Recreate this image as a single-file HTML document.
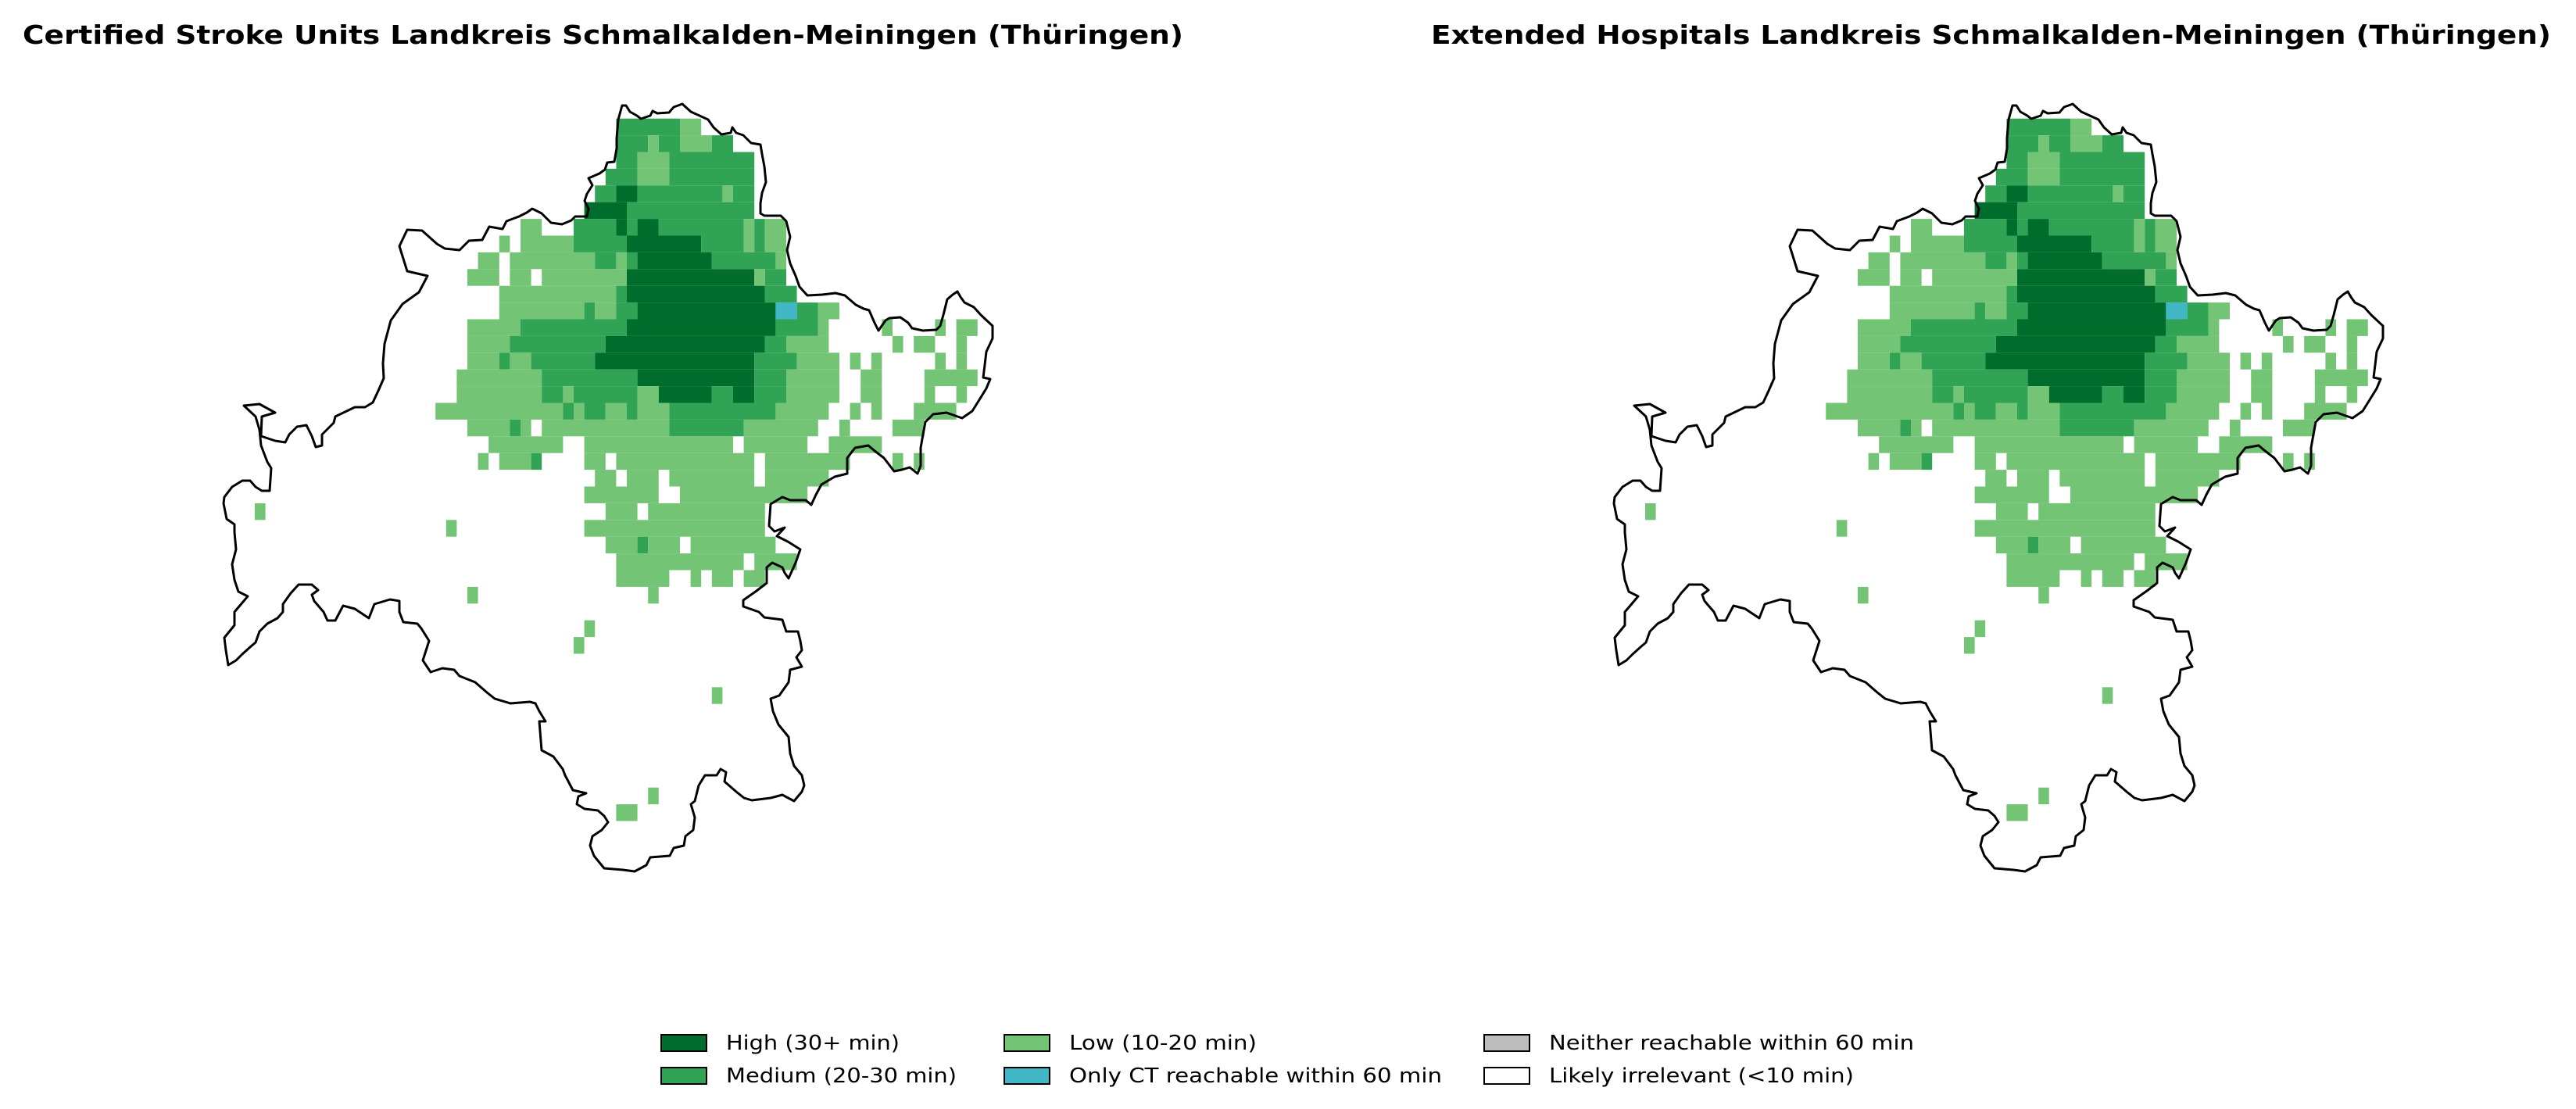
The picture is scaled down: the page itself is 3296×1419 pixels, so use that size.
<!DOCTYPE html>
<html><head><meta charset="utf-8"><title>Stroke Units Schmalkalden-Meiningen</title>
<style>
html,body{margin:0;padding:0;background:#fff;}
svg{display:block;}
</style></head>
<body>
<svg id="fig" xmlns="http://www.w3.org/2000/svg" width="3296" height="1419" viewBox="0 0 3296 1419">
  <rect x="0" y="0" width="3296" height="1419" fill="#fff"/>
  <text x="29" y="56" font-family="DejaVu Sans, Liberation Sans, sans-serif" font-weight="bold" font-size="33" textLength="1485" lengthAdjust="spacingAndGlyphs">Certified Stroke Units Landkreis Schmalkalden-Meiningen (Thüringen)</text>
  <text x="1831" y="56" font-family="DejaVu Sans, Liberation Sans, sans-serif" font-weight="bold" font-size="33" textLength="1433" lengthAdjust="spacingAndGlyphs">Extended Hospitals Landkreis Schmalkalden-Meiningen (Thüringen)</text>
  <g id="mapL"></g>
  <g id="mapR" transform="translate(1779,0)"></g>
  <g id="legend"></g>
</svg>
<script>
// Category codes: 1 = Low, 2 = Medium, 3 = High, 4 = Only CT
const categoryColors = ["#ffffff", "#74c476", "#31a354", "#006d2c", "#41b6c4"];
// Runs of grid cells: [row, firstCol, lastCol, category]
const cellRuns = [
 [0,34,39,2],[0,40,41,1],
 [1,34,36,2],[1,37,37,1],[1,38,39,2],[1,40,42,1],[1,43,44,2],
 [2,34,35,2],[2,36,38,1],[2,39,46,2],
 [3,33,35,2],[3,36,38,1],[3,39,46,2],
 [4,32,33,2],[4,34,35,3],[4,36,43,2],[4,44,44,1],[4,45,46,2],
 [5,31,34,3],[5,35,46,2],
 [6,25,26,1],[6,30,33,2],[6,34,34,3],[6,35,35,2],[6,36,37,3],[6,38,45,2],[6,46,46,1],[6,47,47,2],[6,48,49,1],
 [7,23,23,1],[7,25,29,1],[7,30,34,2],[7,35,41,3],[7,42,45,2],[7,46,46,1],[7,47,47,2],[7,48,49,1],
 [8,21,22,1],[8,24,31,1],[8,32,33,2],[8,34,34,1],[8,35,35,2],[8,36,42,3],[8,43,48,2],[8,49,49,1],
 [9,20,22,1],[9,24,25,1],[9,27,34,1],[9,35,46,3],[9,47,47,1],[9,48,49,2],
 [10,23,33,1],[10,34,34,2],[10,35,47,3],[10,48,50,2],
 [11,23,30,1],[11,31,31,2],[11,32,33,1],[11,34,35,2],[11,36,48,3],[11,49,50,4],[11,51,52,2],[11,53,54,1],
 [12,20,24,1],[12,25,34,2],[12,35,48,3],[12,49,52,2],[12,53,53,1],[12,59,59,1],[12,64,64,1],[12,66,67,1],
 [13,20,23,1],[13,24,32,2],[13,33,47,3],[13,48,49,2],[13,50,53,1],[13,60,60,1],[13,62,63,1],[13,66,66,1],
 [14,20,22,1],[14,23,23,2],[14,24,25,1],[14,26,31,2],[14,32,46,3],[14,47,50,2],[14,51,54,1],[14,56,56,1],[14,58,58,1],[14,64,64,1],[14,66,66,1],
 [15,19,26,1],[15,27,35,2],[15,36,46,3],[15,47,49,2],[15,50,54,1],[15,57,58,1],[15,63,67,1],
 [16,19,26,1],[16,27,28,2],[16,29,29,1],[16,30,35,2],[16,36,37,1],[16,38,42,3],[16,43,44,2],[16,45,46,3],[16,47,49,2],[16,50,54,1],[16,57,58,1],[16,63,63,1],[16,66,66,1],
 [17,17,28,1],[17,29,29,2],[17,30,30,1],[17,31,32,2],[17,33,34,1],[17,35,35,2],[17,36,38,1],[17,39,48,2],[17,49,53,1],[17,56,56,1],[17,58,58,1],[17,62,65,1],
 [18,20,23,1],[18,24,24,2],[18,25,25,1],[18,27,38,1],[18,39,45,2],[18,46,52,1],[18,55,55,1],[18,60,62,1],
 [19,22,28,1],[19,31,44,1],[19,46,51,1],[19,54,58,1],
 [20,21,21,1],[20,23,25,1],[20,26,26,2],[20,31,32,1],[20,34,46,1],[20,48,55,1],[20,60,60,1],[20,62,62,1],
 [21,32,33,1],[21,35,37,1],[21,39,46,1],[21,48,53,1],
 [22,31,37,1],[22,40,51,1],
 [23,0,0,1],[23,33,35,1],[23,37,47,1],
 [24,18,18,1],[24,31,47,1],
 [25,33,35,1],[25,36,36,2],[25,37,39,1],[25,41,48,1],
 [26,34,45,1],[26,47,50,1],
 [27,34,38,1],[27,41,41,1],[27,43,44,1],[27,46,47,1],
 [28,20,20,1],[28,37,37,1],
 [30,31,31,1],[31,30,30,1],[34,43,43,1],[40,37,37,1],[41,34,35,1]
];
const legendLabels = ["High (30+ min)","Medium (20-30 min)","Low (10-20 min)","Only CT reachable within 60 min","Neither reachable within 60 min","Likely irrelevant (<10 min)"];
const legendColors = ["#006d2c","#31a354","#74c476","#41b6c4","#bdbdbd","#ffffff"];

// Axis functions (grid column/row -> pixel)
const GX0 = 326, GW = 13.6, GY0 = 151.7, GH = 21.4;
function xScale(c){ return GX0 + GW * c; }
function yScale(r){ return GY0 + GH * r; }

const outline = [
[797,135],[801,135],[806,143],[815,148],[820,152],[832,148],[835,142],[841,145],[856,144],[862,137],[873,133],[884,143],[906,153],[913,163],[923,172],[935,170],[937,163],[942,170],[951,173],[961,183],[973,185],[975,197],[978,213],[980,233],[975,247],[973,260],[973,273],[978,276],[999,276],[1006,283],[1011,303],[1007,320],[1011,337],[1018,353],[1023,367],[1033,378],[1052,377],[1069,375],[1081,378],[1095,390],[1105,395],[1112,397],[1119,413],[1124,423],[1133,410],[1138,407],[1152,406],[1162,413],[1167,420],[1181,423],[1198,422],[1203,417],[1207,403],[1212,383],[1219,377],[1225,373],[1229,380],[1234,387],[1246,393],[1255,403],[1270,417],[1270,433],[1262,450],[1260,467],[1258,483],[1267,485],[1262,497],[1254,510],[1244,526],[1231,535],[1211,528],[1194,530],[1184,540],[1181,556],[1178,573],[1178,596],[1174,606],[1164,598],[1154,601],[1144,603],[1131,586],[1118,576],[1111,570],[1094,573],[1084,586],[1084,606],[1068,610],[1051,620],[1044,633],[1038,646],[1031,640],[1011,640],[1001,636],[986,645],[984,673],[991,680],[1004,675],[994,686],[1008,693],[1024,703],[1018,720],[1009,740],[1004,733],[1001,726],[988,720],[981,726],[981,746],[968,756],[951,768],[951,776],[971,783],[978,790],[1001,793],[1006,808],[1021,808],[1024,820],[1026,832],[1019,841],[1026,853],[1011,857],[1009,873],[997,890],[986,894],[989,910],[996,927],[1009,943],[1011,964],[1016,980],[1026,992],[1029,1005],[1026,1013],[1016,1025],[1001,1017],[986,1021],[962,1024],[952,1021],[942,1013],[927,1000],[929,988],[922,984],[917,992],[902,992],[894,1005],[889,1025],[884,1029],[889,1046],[887,1062],[877,1070],[875,1082],[862,1085],[857,1095],[832,1097],[827,1107],[812,1115],[797,1113],[773,1111],[760,1095],[755,1082],[758,1070],[770,1062],[778,1052],[773,1044],[765,1037],[748,1035],[738,1029],[740,1019],[750,1015],[733,1011],[723,992],[720,984],[708,968],[693,960],[690,923],[698,923],[690,910],[685,900],[678,898],[653,900],[633,894],[623,886],[608,873],[588,865],[581,857],[566,855],[551,860],[541,845],[549,820],[539,804],[534,798],[516,796],[511,783],[511,769],[499,767],[479,773],[472,791],[454,779],[439,775],[429,794],[419,794],[414,783],[402,769],[399,761],[407,755],[399,748],[382,748],[372,759],[362,773],[362,783],[355,791],[342,798],[332,808],[327,822],[320,828],[310,837],[302,845],[292,851],[289,832],[287,816],[300,800],[300,783],[317,763],[305,757],[300,742],[297,722],[302,703],[300,681],[300,671],[290,664],[286,644],[287,636],[297,623],[310,615],[320,615],[327,623],[335,628],[345,628],[347,599],[342,591],[334,570],[332,550],[327,533],[312,519],[332,517],[352,528],[335,533],[334,558],[352,564],[365,566],[370,556],[380,546],[392,544],[399,558],[404,572],[412,570],[412,556],[427,541],[429,533],[454,521],[467,521],[477,515],[484,500],[491,484],[490,465],[492,440],[500,410],[515,389],[536,374],[547,353],[521,347],[511,315],[521,294],[540,295],[559,312],[569,318],[588,320],[600,308],[617,307],[626,290],[643,293],[648,283],[664,277],[674,272],[681,267],[693,273],[705,285],[719,287],[731,282],[736,277],[751,277],[753,267],[748,257],[751,248],[758,237],[753,228],[767,222],[774,217],[777,208],[786,207],[789,190],[789,177],[791,153],[796,135]
];

const NS = "http://www.w3.org/2000/svg";
function drawMap(g){
  for (const run of cellRuns){
    const r = document.createElementNS(NS, "rect");
    const x0 = xScale(run[1]), x1 = xScale(run[2] + 1);
    r.setAttribute("x", x0.toFixed(2));
    r.setAttribute("y", yScale(run[0]).toFixed(2));
    r.setAttribute("width", (x1 - x0).toFixed(2));
    r.setAttribute("height", GH.toFixed(2));
    r.setAttribute("fill", categoryColors[run[3]]);
    
    
    g.appendChild(r);
  }
  const p = document.createElementNS(NS, "polygon");
  p.setAttribute("points", outline.map(q => q[0] + "," + q[1]).join(" "));
  p.setAttribute("fill", "none");
  p.setAttribute("stroke", "#000");
  p.setAttribute("stroke-width", "3");
  p.setAttribute("stroke-linejoin", "round");
  
  
  g.appendChild(p);
}
drawMap(document.getElementById("mapL"));
drawMap(document.getElementById("mapR"));

// Legend
const legendPos = [[846,1324],[846,1366],[1285,1324],[1285,1366],[1899,1324],[1899,1366]];
const legendWidths = [222,295,240,477,467,390];
const lg = document.getElementById("legend");
for (let i = 0; i < legendLabels.length; i++){
  const [bx, by] = legendPos[i];
  const b = document.createElementNS(NS, "rect");
  b.setAttribute("x", bx); b.setAttribute("y", by);
  b.setAttribute("width", 58); b.setAttribute("height", 21);
  b.setAttribute("fill", legendColors[i]);
  b.setAttribute("stroke", "#000"); b.setAttribute("stroke-width", "2");
  
  
  lg.appendChild(b);
  const t = document.createElementNS(NS, "text");
  t.setAttribute("x", bx + 83); t.setAttribute("y", by + 19);
  t.setAttribute("font-family", "DejaVu Sans, Liberation Sans, sans-serif");
  t.setAttribute("font-size", "26");
  t.setAttribute("textLength", legendWidths[i]);
  t.setAttribute("lengthAdjust", "spacingAndGlyphs");
  t.textContent = legendLabels[i];
  
  
  lg.appendChild(t);
}
</script>
</body></html>
